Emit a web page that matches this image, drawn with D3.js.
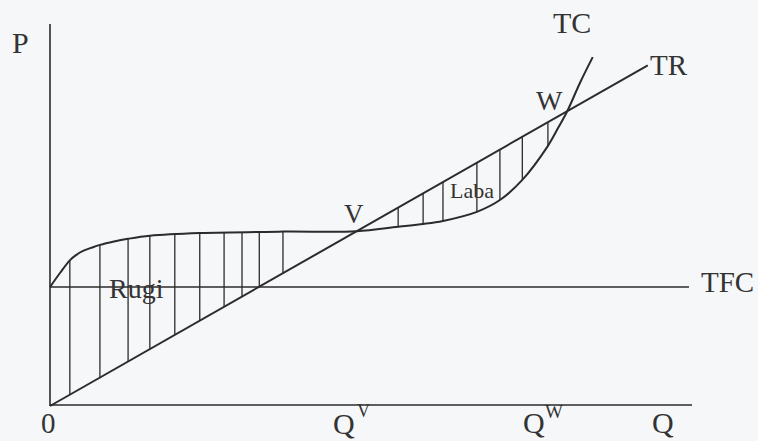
<!DOCTYPE html>
<html>
<head>
<meta charset="utf-8">
<script src="https://cdn.jsdelivr.net/npm/d3@7"></script>
<style>
  html, body { margin: 0; padding: 0; background: #f6f7f9; }
  svg { display: block; }
  text { font-family: "Liberation Serif", "Times New Roman", serif; fill: #333; }
</style>
</head>
<body>
<svg id="chart" width="758" height="441"></svg>
<script>
// ---- Data (units on abstract quantity / money axes) ----
const tfcValue = 31.3;                 // total fixed cost level
const trSlope = 0.96;                  // TR = price * Q
const trEndQ = 93.4;                   // where TR line is drawn to
const tcQ = [0, 1.56, 3.13, 4.06, 5.16, 6.41, 7.81, 10.0, 12.19, 15.63, 23.44, 36.4, 47.9, 54.4, 58.3, 61.4, 66.7, 70.3, 73.8, 77.7, 79.4, 80.8, 82.8, 84.8];
const tcV = [31.3, 35.0, 38.4, 39.7, 40.8, 41.6, 42.4, 43.3, 44.0, 44.8, 45.5, 45.9, 46.0, 47.2, 47.9, 48.7, 51.1, 54.2, 59.5, 68.2, 73.2, 77.5, 85.0, 91.8];
const lossHatchQ = [3.1, 7.8, 12.2, 15.6, 19.5, 23.4, 27.2, 30.0, 32.7, 36.4];
const profitHatchQ = [54.4, 58.3, 61.4, 66.7, 70.3, 73.8, 77.8];

// ---- Scales ----
const x = d3.scaleLinear().domain([0, 100]).range([50, 690]);
const y = d3.scaleLinear().domain([0, 100]).range([406, 26]);

const svg = d3.select("#chart");
const ink = "#2b2b2b";

// axes
svg.append("line").attr("x1", x(0)).attr("x2", x(0)).attr("y1", 24).attr("y2", y(0))
  .attr("stroke", ink).attr("stroke-width", 1.6);
svg.append("line").attr("x1", x(0)).attr("x2", 692).attr("y1", y(0) - 1).attr("y2", y(0) - 1)
  .attr("stroke", ink).attr("stroke-width", 1.6);

// TFC
svg.append("line").attr("x1", x(0)).attr("x2", 689).attr("y1", y(tfcValue)).attr("y2", y(tfcValue))
  .attr("stroke", ink).attr("stroke-width", 1.4);

// TR
svg.append("line").attr("x1", x(0)).attr("y1", y(0)).attr("x2", x(trEndQ)).attr("y2", y(trSlope * trEndQ))
  .attr("stroke", ink).attr("stroke-width", 2);

// TC curve
const tcData = tcQ.map((q, i) => [q, tcV[i]]);
const tcLine = d3.line().x(d => x(d[0])).y(d => y(d[1])).curve(d3.curveCatmullRom.alpha(0.5));
const tcPath = svg.append("path").attr("d", tcLine(tcData))
  .attr("fill", "none").attr("stroke", ink).attr("stroke-width", 2);

const node = tcPath.node();
const L = node.getTotalLength();
function tcYAtPx(px) {
  let lo = 0, hi = L;
  for (let i = 0; i < 40; i++) {
    const mid = (lo + hi) / 2;
    if (node.getPointAtLength(mid).x < px) lo = mid; else hi = mid;
  }
  return node.getPointAtLength((lo + hi) / 2).y;
}
const trYAtPx = px => y(trSlope * x.invert(px));

// hatch lines
const hatchG = svg.append("g").attr("stroke", ink).attr("stroke-width", 1.3);
lossHatchQ.concat(profitHatchQ).forEach(q => {
  const px = x(q);
  hatchG.append("line").attr("x1", px).attr("x2", px)
    .attr("y1", tcYAtPx(px)).attr("y2", trYAtPx(px));
});

// labels
function label(t, px, py, size) {
  return svg.append("text").attr("x", px).attr("y", py).attr("font-size", size).text(t);
}
label("P", 12, 53, 30);
label("TC", 553, 33, 30);
label("TR", 650, 75, 29);
label("W", 536, 110, 28);
label("V", 344, 223, 27);
label("Laba", 450, 198, 22);
label("Rugi", 109, 298, 28);
label("TFC", 701, 292, 29);
label("0", 41, 433, 29);
label("Q", 333, 434, 30);
label("V", 357, 417, 18);
label("Q", 523, 433, 30);
label("W", 545, 418, 19);
label("Q", 652, 433, 30);
</script>
</body>
</html>
